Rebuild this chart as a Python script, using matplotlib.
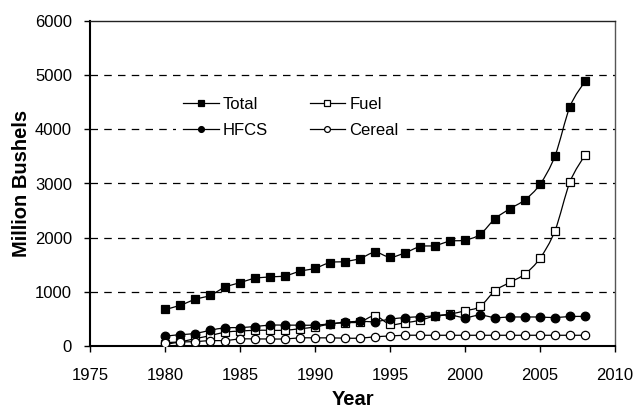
import numpy as np
import matplotlib
matplotlib.use("Agg")
import matplotlib.pyplot as plt
from matplotlib.path import Path
from matplotlib.patches import PathPatch
from matplotlib.lines import Line2D

plt.rcParams['font.family'] = ['Liberation Sans', 'DejaVu Sans']

years = list(range(1980, 2009))
total = [675, 750, 860, 935, 1085, 1170, 1250, 1275, 1295, 1380, 1435, 1540, 1560, 1615,
         1730, 1640, 1720, 1835, 1855, 1935, 1955, 2060, 2350, 2535, 2700, 2985, 3510, 4420, 4885]
fuel = [30, 75, 135, 190, 255, 275, 290, 290, 290, 320, 350, 405, 430, 445,
        555, 400, 430, 475, 555, 590, 650, 730, 1020, 1175, 1330, 1620, 2130, 3030, 3525]
hfcs = [180, 210, 230, 290, 335, 340, 360, 385, 385, 385, 385, 410, 440, 455,
        450, 495, 525, 540, 555, 570, 525, 570, 525, 535, 535, 535, 525, 545, 545]
cereal = [60, 75, 80, 100, 100, 130, 130, 130, 130, 150, 150, 150, 145, 145,
          170, 185, 198, 198, 198, 198, 198, 198, 198, 198, 198, 198, 198, 198, 198]

series_names = ['Total', 'Fuel', 'HFCS', 'Cereal']
x_ticks = [1975, 1980, 1985, 1990, 1995, 2000, 2005, 2010]
y_ticks = [0, 1000, 2000, 3000, 4000, 5000, 6000]


def smooth_path(x, y):
    x = np.asarray(x, float)
    y = np.asarray(y, float)
    pts = np.column_stack([x, y])
    n = len(pts)
    verts = [pts[0]]
    codes = [Path.MOVETO]
    for i in range(n - 1):
        p0 = pts[i - 1] if i > 0 else pts[i]
        p1 = pts[i]
        p2 = pts[i + 1]
        p3 = pts[i + 2] if i + 2 < n else pts[i + 1]
        c1 = p1 + (p2 - p0) / 6.0
        c2 = p2 - (p3 - p1) / 6.0
        verts += [c1, c2, p2]
        codes += [Path.CURVE4] * 3
    return Path(verts, codes)


fig = plt.figure(figsize=(6.37, 4.11), dpi=100)
ax = fig.add_axes([90 / 637, 1 - 346 / 411, 525 / 637, 325 / 411])

styles = {
    'Total': dict(marker='s', mfc='black', ms=6.4),
    'Fuel': dict(marker='s', mfc='white', ms=5.8),
    'HFCS': dict(marker='o', mfc='black', ms=6.2),
    'Cereal': dict(marker='o', mfc='white', ms=6.0),
}
data = {'Total': total, 'Fuel': fuel, 'HFCS': hfcs, 'Cereal': cereal}

for i, name in enumerate(series_names):
    vals = data[name]
    patch = PathPatch(smooth_path(years, vals), facecolor='none', edgecolor='black',
                      lw=0.9, zorder=3 + i)
    ax.add_patch(patch)
    st = styles[name]
    ax.plot(years, vals, ls='none', marker=st['marker'], mfc=st['mfc'], mec='black',
            mew=0.9, ms=st['ms'], zorder=3.5 + i)

ax.set_xlim(1975, 2010)
ax.set_ylim(0, 6000)
ax.set_xticks(x_ticks)
ax.set_yticks(y_ticks)
ax.tick_params(axis='both', direction='out', labelsize=12, color='black')
ax.tick_params(axis='x', length=4, pad=12, width=1)
ax.tick_params(axis='y', length=4, pad=9, width=1)

for yv in y_ticks[1:-1]:
    ax.axhline(yv, color='black', lw=0.9, ls=(0, (6, 5)), zorder=1)

ax.spines['left'].set_linewidth(1.5)
ax.spines['bottom'].set_linewidth(1.5)
ax.spines['top'].set_linewidth(1.0)
ax.spines['right'].set_linewidth(1.0)
ax.spines['right'].set_color('#555555')
ax.spines['top'].set_color('#222222')

ax.set_xlabel('Year', fontsize=14.5, fontweight='bold', labelpad=5)
ax.set_ylabel('Million Bushels', fontsize=14.5, fontweight='bold', labelpad=3)

handles = []
for name in ['Total', 'HFCS', 'Fuel', 'Cereal']:
    st = styles[name]
    handles.append(Line2D([], [], color='black', lw=0.9, marker=st['marker'],
                          mfc=st['mfc'], mec='black', mew=0.9, ms=4.2))
leg = ax.legend(handles, ['Total', 'HFCS', 'Fuel', 'Cereal'], ncol=2, frameon=True,
                fancybox=False, framealpha=1, facecolor='white', edgecolor='none',
                fontsize=12, loc='upper left', bbox_to_anchor=(0.164, 0.788),
                handlelength=2.15, handletextpad=0.25, columnspacing=2.5,
                labelspacing=0.68, borderaxespad=0)
leg.set_zorder(10)

fig.savefig('out.png', dpi=100)
